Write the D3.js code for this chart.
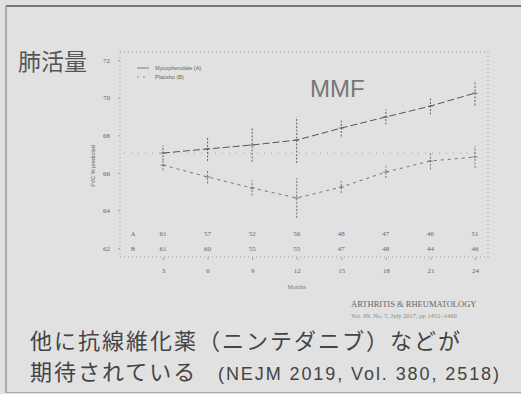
<!DOCTYPE html>
<html lang="ja">
<head>
<meta charset="UTF-8">
<script src="https://d3js.org/d3.v7.min.js"></script>
<style>
  body { margin: 0; background: #e1e1e1; }
  svg { display: block; }
  .ja { font-family: "Noto Sans CJK JP", "Noto Sans", sans-serif; }
  .tick text { font-family: "Liberation Serif", serif; fill: #666; }
</style>
</head>
<body>
<div id="vis"></div>
<script>
// values (FVC % predicted, mean +/- SE)
const months = [3, 6, 9, 12, 15, 18, 21, 24];
const mmfMean = [67.05, 67.27, 67.48, 67.74, 68.38, 68.97, 69.55, 70.24];
const mmfErr = [0.4, 0.64, 0.9, 1.22, 0.45, 0.4, 0.45, 0.66];
const pboMean = [66.41, 65.78, 65.19, 64.66, 65.24, 66.04, 66.63, 66.84];
const pboErr = [0.27, 0.35, 0.4, 1.06, 0.32, 0.32, 0.45, 0.58];
const atRiskA = [61, 57, 52, 56, 48, 47, 46, 51];
const atRiskB = [61, 60, 55, 55, 47, 48, 44, 46];
const yTicks = [62, 64, 66, 68, 70, 72];
const baseline = 67.05;

const width = 521, height = 394;
const plot = { left: 120, right: 488, top: 52, bottom: 257 };

const svg = d3.select('#vis').append('svg')
  .attr('width', width)
  .attr('height', height);

// slide frame
svg.append('line').attr('x1', 6).attr('x2', width).attr('y1', 6).attr('y2', 6)
  .attr('stroke', '#555').attr('stroke-width', 1.5);
svg.append('line').attr('x1', 6).attr('x2', 6).attr('y1', 6).attr('y2', height - 1)
  .attr('stroke', '#888').attr('stroke-width', 1.2);
svg.append('line').attr('x1', 6).attr('x2', width).attr('y1', height - 1.5).attr('y2', height - 1.5)
  .attr('stroke', '#aaa').attr('stroke-width', 1);

const x = d3.scaleLinear().domain([3, 24]).range([163, 475]);
const y = d3.scaleLinear().domain([62, 72]).range([248, 60]);

// dotted plot box
svg.append('rect')
  .attr('x', plot.left).attr('y', plot.top)
  .attr('width', plot.right - plot.left).attr('height', plot.bottom - plot.top)
  .attr('fill', 'none').attr('stroke', '#8a8a8a')
  .attr('stroke-width', 0.8).attr('stroke-dasharray', '1,3');

// axes
const yAxis = svg.append('g')
  .attr('transform', `translate(${plot.left},0)`)
  .call(d3.axisLeft(y).tickValues(yTicks).tickSize(2).tickPadding(8));
const xAxis = svg.append('g')
  .attr('transform', `translate(0,${plot.bottom})`)
  .call(d3.axisBottom(x).tickValues(months).tickSize(3).tickPadding(8));
[yAxis, xAxis].forEach(g => {
  g.select('.domain').remove();
  g.selectAll('.tick line').attr('stroke', '#888').attr('stroke-width', 0.6);
  g.selectAll('.tick text').style('font-size', '7px');
});

svg.append('text')
  .attr('transform', `translate(95,${(y(72) + y(62)) / 2 + 12}) rotate(-90)`)
  .attr('text-anchor', 'middle')
  .style('font-family', 'Liberation Sans, sans-serif')
  .style('font-size', '5.5px').attr('fill', '#666')
  .text('FVC % predicted');

svg.append('text')
  .attr('x', x(12)).attr('y', 289)
  .attr('text-anchor', 'middle')
  .style('font-family', 'Liberation Serif, serif')
  .style('font-size', '6px').attr('fill', '#777')
  .text('Months');

// baseline reference
svg.append('line')
  .attr('x1', plot.left + 4).attr('x2', plot.right - 10)
  .attr('y1', y(baseline)).attr('y2', y(baseline))
  .attr('stroke', '#888').attr('stroke-width', 0.7)
  .attr('stroke-dasharray', '1,6');

// series
const series = [
  { name: 'Mycophenolate (A)', mean: mmfMean, err: mmfErr, dash: '7,3', color: '#555', w: 1 },
  { name: 'Placebo (B)', mean: pboMean, err: pboErr, dash: '3,4', color: '#666', w: 0.9 }
];

const line = d3.line().x((d, i) => x(months[i])).y(d => y(d));

series.forEach(s => {
  svg.append('path')
    .attr('d', line(s.mean))
    .attr('fill', 'none')
    .attr('stroke', s.color)
    .attr('stroke-width', s.w)
    .attr('stroke-dasharray', s.dash);

  svg.selectAll(null)
    .data(s.mean)
    .enter()
    .append('line')
    .attr('x1', (d, i) => x(months[i])).attr('x2', (d, i) => x(months[i]))
    .attr('y1', (d, i) => y(d - s.err[i])).attr('y2', (d, i) => y(d + s.err[i]))
    .attr('stroke', s.color).attr('stroke-width', 0.9)
    .attr('stroke-dasharray', '2,1.5');

  svg.selectAll(null)
    .data(s.mean)
    .enter()
    .append('line')
    .attr('x1', (d, i) => x(months[i]) - 2.5).attr('x2', (d, i) => x(months[i]) + 2.5)
    .attr('y1', d => y(d)).attr('y2', d => y(d))
    .attr('stroke', s.color).attr('stroke-width', 0.8);
});

// legend
series.forEach((s, i) => {
  const ly = 68 + i * 9;
  svg.append('line')
    .attr('x1', 137).attr('x2', 149).attr('y1', ly).attr('y2', ly)
    .attr('stroke', s.color).attr('stroke-width', 0.7)
    .attr('stroke-dasharray', i === 0 ? null : '2,4');
  svg.append('text')
    .attr('x', 155).attr('y', ly + 2)
    .style('font-family', 'Liberation Sans, sans-serif')
    .style('font-size', '5.5px').attr('fill', '#666')
    .text(s.name);
});

// numbers at risk
[['A', atRiskA, 236], ['B', atRiskB, 251]].forEach(([lab, vals, ry]) => {
  svg.append('text')
    .attr('x', 133).attr('y', ry).attr('text-anchor', 'middle')
    .style('font-family', 'Liberation Serif, serif')
    .style('font-size', '6.5px').attr('fill', '#666')
    .text(lab);
  svg.selectAll(null)
    .data(vals)
    .enter()
    .append('text')
    .attr('x', (d, i) => x(months[i]))
    .attr('y', ry)
    .attr('text-anchor', 'middle')
    .style('font-family', 'Liberation Serif, serif')
    .style('font-size', '7px').attr('fill', '#666')
    .text(d => d);
});

// slide text
svg.append('text').attr('class', 'ja')
  .attr('x', 18).attr('y', 70)
  .style('font-size', '23px').attr('fill', '#555')
  .text('肺活量');

svg.append('text')
  .attr('x', 310).attr('y', 97)
  .style('font-family', 'Liberation Sans, sans-serif')
  .style('font-size', '24px').attr('fill', '#777')
  .text('MMF');

svg.append('text')
  .attr('x', 351).attr('y', 307)
  .style('font-family', 'Liberation Serif, serif')
  .style('font-size', '8.5px').attr('fill', '#666')
  .text('ARTHRITIS & RHEUMATOLOGY');
svg.append('text')
  .attr('x', 351).attr('y', 318)
  .style('font-family', 'Liberation Serif, serif')
  .style('font-size', '6.5px').attr('fill', '#888')
  .text('Vol. 69, No. 7, July 2017, pp 1451–1460');

svg.append('text').attr('class', 'ja')
  .attr('x', 30).attr('y', 349)
  .style('font-size', '22px').style('letter-spacing', '2px').attr('fill', '#444')
  .text('他に抗線維化薬（ニンテダニブ）などが');

svg.append('text').attr('class', 'ja')
  .attr('x', 30).attr('y', 380)
  .style('font-size', '22px').style('letter-spacing', '2px').attr('fill', '#444')
  .text('期待されている');

svg.append('text')
  .attr('x', 218).attr('y', 380)
  .style('font-family', 'Liberation Sans, sans-serif')
  .style('font-size', '18px').attr('fill', '#444')
  .attr('textLength', 281).attr('lengthAdjust', 'spacing')
  .text('(NEJM 2019, Vol. 380, 2518)');
</script>
</body>
</html>
